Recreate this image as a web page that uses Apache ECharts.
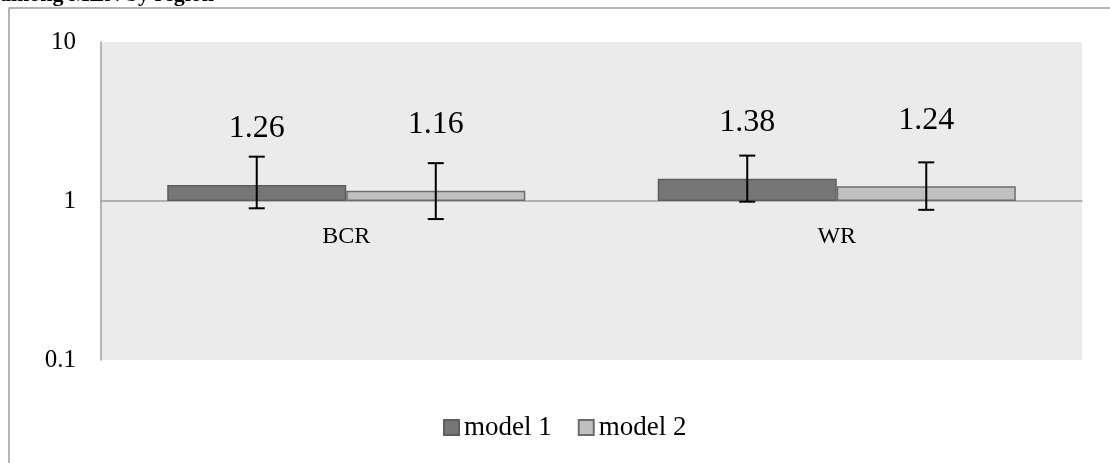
<!DOCTYPE html>
<html>
<head>
<meta charset="utf-8">
<script src="https://cdn.jsdelivr.net/npm/echarts@6/dist/echarts.min.js"></script>
<style>html,body{margin:0;padding:0;background:#fff;}#c{width:1110px;height:463px;}</style>
</head>
<body>
<div id="c"></div>
<script>
const titleText = 'among MEN by region';
const categories = ['BCR', 'WR'];
const seriesNames = ['model 1', 'model 2'];
const model1 = [1.26, 1.38];
const model2 = [1.16, 1.24];
const model1Low = [0.90, 0.99];
const model1High = [1.90, 1.93];
const model2Low = [0.77, 0.88];
const model2High = [1.73, 1.75];
const yTicks = [0.1, 1, 10];

const FONT = '"Liberation Serif", "DejaVu Serif", serif';
const barPct = 36.5;

const chart = echarts.init(document.getElementById('c'), null, {renderer: 'canvas'});

function errSeries(low, high, side) {
  const data = categories.map((c, i) => [i, low[i], high[i]]);
  return {
    type: 'custom',
    silent: true,
    z: 10,
    data: data,
    encode: {x: 0, y: [1, 2]},
    renderItem: function (params, api) {
      const i = api.value(0);
      const band = api.size([1, 1])[0];
      const off = side * band * barPct / 200;
      const lo = api.coord([i, api.value(1)]);
      const hi = api.coord([i, api.value(2)]);
      const x = lo[0] + off;
      const cap = 8;
      const st = {stroke: '#000', lineWidth: 2};
      return {
        type: 'group',
        children: [
          {type: 'line', shape: {x1: x, y1: hi[1], x2: x, y2: lo[1]}, style: st},
          {type: 'line', shape: {x1: x - cap, y1: hi[1], x2: x + cap, y2: hi[1]}, style: st},
          {type: 'line', shape: {x1: x - cap, y1: lo[1], x2: x + cap, y2: lo[1]}, style: st}
        ]
      };
    }
  };
}

function barLabel(dist) {
  return {
    show: true,
    position: 'top',
    distance: dist,
    fontFamily: FONT,
    fontSize: 32,
    color: '#000',
    formatter: p => p.value.toFixed(2)
  };
}

chart.setOption({
  animation: false,
  backgroundColor: '#fff',
  title: {
    text: titleText,
    left: 0,
    top: -16,
    padding: 0,
    textStyle: {fontFamily: FONT, fontWeight: 'bold', fontSize: 22, color: '#000'}
  },
  graphic: [{
    type: 'rect',
    shape: {x: 9, y: 8, width: 1200, height: 600},
    style: {fill: 'none', stroke: '#9c9c9c', lineWidth: 1.5},
    silent: true,
    z: -10
  }],
  legend: {
    data: seriesNames,
    left: 438,
    top: 409,
    itemWidth: 15,
    itemHeight: 15,
    itemGap: 26,
    icon: 'rect',
    textStyle: {fontFamily: FONT, fontSize: 27, color: '#000'}
  },
  grid: {
    left: 101, right: 28, top: 42, bottom: 103,
    containLabel: false,
    outerBoundsMode: 'none',
    show: true,
    backgroundColor: '#ebebeb',
    borderWidth: 0
  },
  xAxis: {
    type: 'category',
    data: categories,
    position: 'bottom',
    offset: -159,
    axisLine: {show: true, onZero: false, lineStyle: {color: '#a0a0a0', width: 1.5}},
    axisTick: {show: false},
    axisLabel: {fontFamily: FONT, fontSize: 24, color: '#000', margin: 24},
    splitLine: {show: false}
  },
  yAxis: {
    type: 'log',
    logBase: 10,
    min: 0.1,
    max: 10,
    interval: 1,
    axisLine: {show: true, lineStyle: {color: '#a0a0a0', width: 1.5}},
    axisTick: {show: false},
    splitLine: {show: false},
    axisLabel: {
      fontFamily: FONT, fontSize: 25, color: '#000', margin: 25,
      padding: [8, 0, 0, 0],
      formatter: v => {
        const m = yTicks.find(t => Math.abs(t - v) < 1e-9 * Math.max(1, t));
        return m !== undefined ? String(m) : '';
      }
    }
  },
  series: [
    {
      name: seriesNames[0],
      type: 'bar',
      data: model1,
      barWidth: barPct + '%',
      barGap: '0%',
      itemStyle: {color: '#767676', borderColor: '#5e5e5e', borderWidth: 1.5},
      label: barLabel(40)
    },
    {
      name: seriesNames[1],
      type: 'bar',
      data: model2,
      barWidth: barPct + '%',
      barGap: '0%',
      itemStyle: {color: '#c0c0c0', borderColor: '#6c6c6c', borderWidth: 1.5},
      label: barLabel(50)
    },
    errSeries(model1Low, model1High, -1),
    errSeries(model2Low, model2High, 1)
  ]
});
</script>
</body>
</html>
